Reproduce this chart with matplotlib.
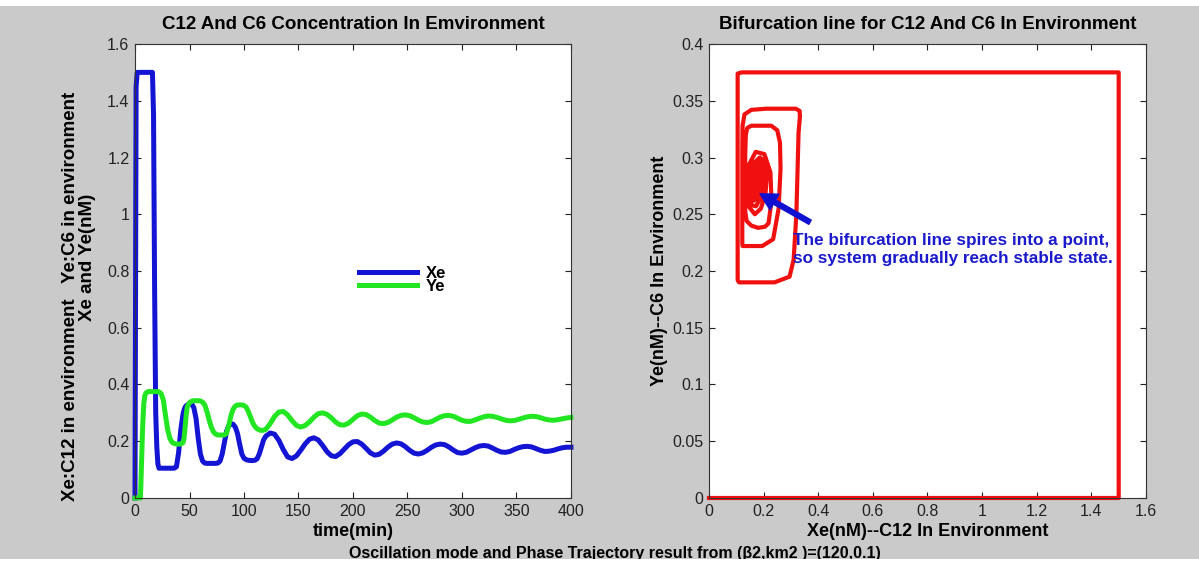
import matplotlib
matplotlib.use('Agg')
import matplotlib.pyplot as plt
from matplotlib.patches import Rectangle

plt.rcParams['font.family'] = ['Liberation Sans', 'DejaVu Sans']

# time (min) and concentrations (nM) of C12 (Xe) and C6 (Ye) in environment
t = [0, 1, 2, 5, 6, 7, 8, 9, 10, 12, 14, 16, 17, 18, 19, 20, 21, 22, 24, 26,
     28, 30, 32, 34, 36, 38, 40, 42, 44, 45, 46, 47, 48, 50, 52, 54, 56, 58, 60, 62,
     64, 66, 68, 70, 72, 74, 76, 78, 80, 82, 84, 86, 88, 90, 92, 94, 96, 98, 100, 102,
     104, 106, 108, 110, 112, 114, 116, 118,
     120, 124, 128, 132, 136, 140, 144, 148, 152, 156, 160, 164, 168, 172, 176, 180,
     184, 188, 192, 196, 200, 204, 208, 212, 216, 220, 224, 228, 232, 236, 240, 244,
     248, 252, 256, 260, 264, 268, 272, 276, 280, 284, 288, 292, 296, 300, 304, 308,
     312, 316, 320, 324, 328, 332, 336, 340, 344, 348, 352, 356, 360, 364, 368, 372,
     376, 380, 384, 388, 392, 396, 400]
xe = [0, 1.45, 1.5, 1.5, 1.5, 1.5, 1.5, 1.5, 1.5, 1.5, 1.5, 1.5, 1.35, 0.73, 0.3, 0.18, 0.12, 0.105, 0.105, 0.105,
      0.105, 0.105, 0.105, 0.105, 0.105, 0.11, 0.16, 0.24, 0.295, 0.31, 0.32, 0.325, 0.328, 0.333, 0.332, 0.318, 0.28, 0.21, 0.155, 0.13,
      0.123, 0.122, 0.122, 0.122, 0.122, 0.122, 0.123, 0.13, 0.155, 0.195, 0.235, 0.255, 0.262, 0.26, 0.25, 0.228, 0.19, 0.155, 0.14, 0.135,
      0.133, 0.132, 0.132, 0.133, 0.138, 0.155, 0.18, 0.205,
      0.218, 0.229, 0.225, 0.203, 0.171, 0.145, 0.139, 0.148, 0.168, 0.19, 0.207, 0.212, 0.205, 0.186, 0.164, 0.149,
      0.146, 0.156, 0.172, 0.188, 0.198, 0.199, 0.19, 0.175, 0.159, 0.151, 0.154, 0.165, 0.179, 0.19, 0.194, 0.191,
      0.181, 0.168, 0.158, 0.155, 0.159, 0.168, 0.179, 0.187, 0.19, 0.188, 0.18, 0.169, 0.16, 0.158, 0.161, 0.169,
      0.177, 0.183, 0.185, 0.183, 0.176, 0.168, 0.162, 0.161, 0.164, 0.171, 0.177, 0.181, 0.182, 0.18, 0.174, 0.168,
      0.164, 0.165, 0.168, 0.173, 0.177, 0.179, 0.179]
ye = [0, 0, 0, 0, 0.12, 0.25, 0.33, 0.36, 0.37, 0.375, 0.375, 0.375, 0.375, 0.375, 0.375, 0.375, 0.375, 0.374, 0.368, 0.345,
      0.29, 0.24, 0.21, 0.196, 0.192, 0.19, 0.19, 0.19, 0.195, 0.21, 0.25, 0.295, 0.322, 0.336, 0.341, 0.343, 0.343, 0.343, 0.342, 0.338,
      0.328, 0.305, 0.275, 0.25, 0.233, 0.225, 0.222, 0.222, 0.222, 0.222, 0.228, 0.255, 0.29, 0.313, 0.324, 0.328, 0.328, 0.328, 0.326, 0.32,
      0.305, 0.285, 0.265, 0.252, 0.244, 0.24, 0.238, 0.239,
      0.242, 0.262, 0.287, 0.303, 0.305, 0.293, 0.273, 0.256, 0.25, 0.255, 0.268, 0.284, 0.297, 0.3, 0.295, 0.283,
      0.268, 0.258, 0.257, 0.264, 0.277, 0.29, 0.296, 0.294, 0.285, 0.273, 0.264, 0.262, 0.266, 0.275, 0.285, 0.291,
      0.293, 0.29, 0.283, 0.274, 0.268, 0.266, 0.269, 0.277, 0.285, 0.29, 0.291, 0.288, 0.281, 0.274, 0.27, 0.27,
      0.275, 0.281, 0.286, 0.289, 0.288, 0.284, 0.279, 0.274, 0.272, 0.273, 0.277, 0.282, 0.286, 0.288, 0.287, 0.283,
      0.278, 0.275, 0.274, 0.276, 0.279, 0.282, 0.284]

# tick labels
t_ticks = [0, 50, 100, 150, 200, 250, 300, 350, 400]
c_ticks = [0, 0.2, 0.4, 0.6, 0.8, 1.0, 1.2, 1.4, 1.6]
c_labels = ['0', '0.2', '0.4', '0.6', '0.8', '1', '1.2', '1.4', '1.6']
y2_ticks = [0, 0.05, 0.1, 0.15, 0.2, 0.25, 0.3, 0.35, 0.4]
y2_labels = ['0', '0.05', '0.1', '0.15', '0.2', '0.25', '0.3', '0.35', '0.4']

blue = '#1414d4'
green = '#22e622'
red = '#f01010'
grey = '#cacaca'

fig = plt.figure(figsize=(11.99, 5.73), dpi=100, facecolor=grey)
ax1 = fig.add_axes([0.1126, 0.1309, 0.3636, 0.7923])
ax2 = fig.add_axes([0.5913, 0.1309, 0.3645, 0.7923])

for ax in (ax1, ax2):
    ax.tick_params(direction='in', top=True, right=True, length=4, width=0.8,
                   labelsize=11.5, pad=4, colors='#222222')
    for sp in ax.spines.values():
        sp.set_linewidth(0.8)
        sp.set_color('#333333')

# left: time course
ax1.plot(t, xe, color=blue, lw=3.6, label='Xe', clip_on=False, solid_joinstyle='round')
ax1.plot(t, ye, color=green, lw=3.6, label='Ye', clip_on=False, solid_joinstyle='round')
ax1.set_xlim(0, 400)
ax1.set_ylim(0, 1.6)
ax1.set_xticks(t_ticks)
ax1.set_xticklabels([str(v) for v in t_ticks])
ax1.set_yticks(c_ticks)
ax1.set_yticklabels(c_labels)
ax1.set_title('C12 And C6 Concentration In Emvironment', fontsize=13.5, fontweight='bold', pad=11)
ax1.set_xlabel('time(min)', fontsize=13, fontweight='bold')
ax1.xaxis.set_label_coords(0.5, -0.055)
# two-line y label, each line placed on its own
ax1.text(-0.149, 0.445, 'Xe:C12 in environment   Ye:C6 in environment', transform=ax1.transAxes,
         rotation=90, ha='center', va='center', fontsize=13.5, fontweight='bold')
ax1.text(-0.108, 0.529, 'Xe and Ye(nM)', transform=ax1.transAxes,
         rotation=90, ha='center', va='center', fontsize=13.5, fontweight='bold')
ax1.legend(loc='center left', bbox_to_anchor=(0.479, 0.48), frameon=False,
           handlelength=3.5, labelspacing=-0.15, handletextpad=0.5,
           prop={'weight': 'bold', 'size': 12})

# right: phase trajectory Ye against Xe
ax2.plot(xe, ye, color=red, lw=3.0, clip_on=False, solid_joinstyle='round')
ax2.set_xlim(0, 1.6)
ax2.set_ylim(0, 0.4)
ax2.set_xticks(c_ticks)
ax2.set_xticklabels(c_labels)
ax2.set_yticks(y2_ticks)
ax2.set_yticklabels(y2_labels)
ax2.set_title('Bifurcation line for C12 And C6 In Environment', fontsize=13.5, fontweight='bold', pad=11)
ax2.set_xlabel('Xe(nM)--C12 In Environment', fontsize=13, fontweight='bold')
ax2.xaxis.set_label_coords(0.5, -0.055)
ax2.set_ylabel('Ye(nM)--C6 In Environment', fontsize=13, fontweight='bold')
ax2.yaxis.set_label_coords(-0.094, 0.5)

ax2.annotate('', xy=(0.187, 0.268), xytext=(0.37, 0.243),
             arrowprops=dict(facecolor='#1010d0', edgecolor='#1010d0',
                             width=3.5, headwidth=13, headlength=12))
ax2.text(0.309, 0.219, 'The bifurcation line spires into a point,\nso system gradually reach stable state.',
         color='#1a1acc', fontsize=12.3, fontweight='bold', va='center', ha='left', linespacing=1.3)

fig.text(0.513, 0.027, 'Oscillation mode and Phase Trajectory result from (\u03b22,km2 )=(120,0.1)',
         ha='center', va='baseline', fontsize=11.5, fontweight='bold', zorder=1)
# white border strips at top and bottom
fig.patches.append(Rectangle((0, 0), 1, 0.024, transform=fig.transFigure,
                             facecolor='white', edgecolor='none', zorder=5))
fig.patches.append(Rectangle((0, 0.99), 1, 0.01, transform=fig.transFigure,
                             facecolor='white', edgecolor='none', zorder=5))

fig.savefig('out.png', dpi=100, facecolor=grey)
